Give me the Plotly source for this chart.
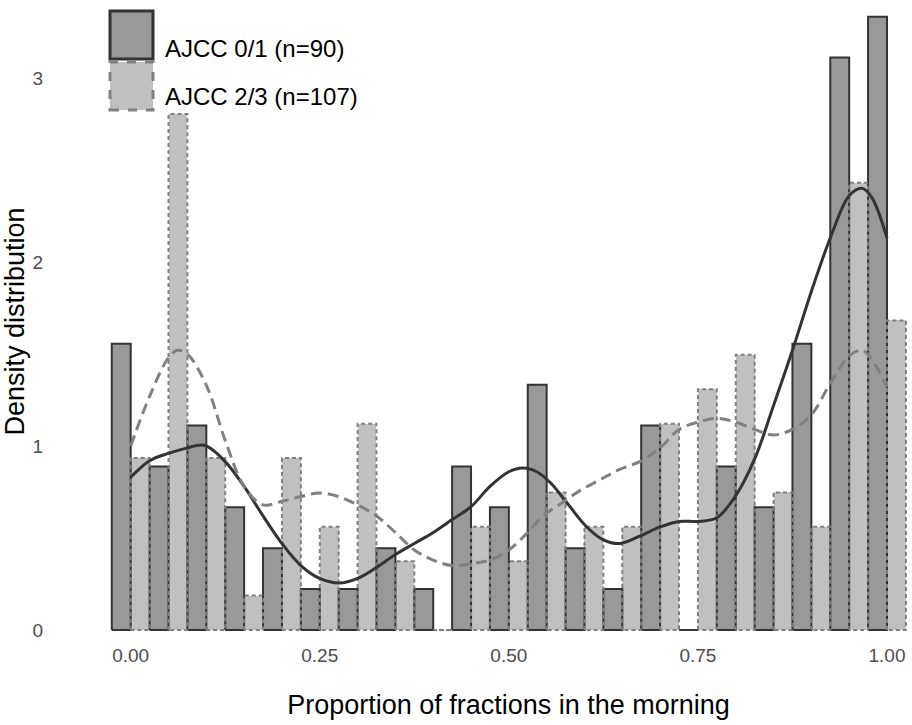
import plotly.graph_objects as go

# ---------------- data ----------------
bin_centers = [0.00, 0.05, 0.10, 0.15, 0.20, 0.25, 0.30, 0.35, 0.40, 0.45, 0.50,
               0.55, 0.60, 0.65, 0.70, 0.75, 0.80, 0.85, 0.90, 0.95, 1.00]
bin_width = 0.05
counts_01 = [7, 4, 5, 3, 2, 1, 1, 2, 1, 4, 3, 6, 2, 1, 5, 0, 4, 3, 7, 14, 15]
counts_23 = [5, 15, 5, 1, 5, 3, 6, 2, 0, 3, 2, 4, 3, 3, 6, 7, 8, 4, 3, 13, 9]
n_01 = 90
n_23 = 107
label_01 = "AJCC 0/1 (n=90)"
label_23 = "AJCC 2/3 (n=107)"

dens_x_01 = [0.000, 0.025, 0.05, 0.075, 0.092, 0.1, 0.125, 0.15, 0.175, 0.2, 0.225, 0.25,
             0.276, 0.3, 0.325, 0.35, 0.375, 0.4, 0.425, 0.45, 0.475, 0.5, 0.519, 0.537,
             0.555, 0.577, 0.603, 0.625, 0.647, 0.673, 0.7, 0.725, 0.75, 0.775, 0.8, 0.825,
             0.85, 0.875, 0.9, 0.925, 0.95, 0.967, 0.98, 1.0]
dens_y_01 = [0.83, 0.92, 0.96, 0.99, 1.005, 1.00, 0.915, 0.78, 0.62, 0.47, 0.35, 0.28,
             0.255, 0.28, 0.34, 0.41, 0.47, 0.53, 0.60, 0.67, 0.78, 0.86, 0.88, 0.86,
             0.80, 0.69, 0.56, 0.49, 0.47, 0.51, 0.56, 0.59, 0.59, 0.61, 0.73, 0.93,
             1.22, 1.52, 1.84, 2.13, 2.36, 2.40, 2.35, 2.13]
dens_x_23 = [0.0, 0.025, 0.05, 0.062, 0.075, 0.1, 0.125, 0.15, 0.175, 0.2, 0.225, 0.25,
             0.275, 0.3, 0.325, 0.35, 0.375, 0.4, 0.425, 0.45, 0.475, 0.5, 0.525, 0.545,
             0.57, 0.595, 0.62, 0.645, 0.673, 0.7, 0.725, 0.75, 0.775, 0.8, 0.825, 0.85,
             0.875, 0.9, 0.925, 0.95, 0.967, 0.98, 1.0]
dens_y_23 = [1.00, 1.27, 1.48, 1.52, 1.50, 1.33, 1.03, 0.78, 0.68, 0.70, 0.725, 0.745,
             0.725, 0.68, 0.62, 0.53, 0.435, 0.38, 0.35, 0.36, 0.38, 0.435, 0.53, 0.62,
             0.69, 0.76, 0.815, 0.87, 0.915, 0.99, 1.09, 1.13, 1.15, 1.13, 1.09, 1.06,
             1.09, 1.17, 1.34, 1.49, 1.52, 1.47, 1.32]

x_ticks = [0, 0.25, 0.5, 0.75, 1.0]
x_ticklabels = ["0.00", "0.25", "0.50", "0.75", "1.00"]
y_ticks = [0, 1, 2, 3]

# ---------------- style ----------------
FONT = "Liberation Sans, Arial, sans-serif"
DARK_FILL = "#999999"
DARK_LINE = "#333333"
LIGHT_FILL = "#c0c0c0"
LIGHT_LINE = "#808080"

W, H = 912, 725
ML, MR, MT, MB = 108, 3, 4, 86
PW, PH = W - ML - MR, H - MT - MB

dens_01 = [c / (n_01 * bin_width) for c in counts_01]
dens_23 = [c / (n_23 * bin_width) for c in counts_23]
half = bin_width / 2
x_01 = [c - half / 2 for c in bin_centers]
x_23 = [c + half / 2 for c in bin_centers]


def outline(xs, hs, w):
    px, py = [], []
    for x, h in zip(xs, hs):
        x0, x1 = x - w / 2, x + w / 2
        px += [x0, x0, x1, x1, x0, None]
        py += [0, h, h, 0, 0, None]
    return px, py


fig = go.Figure()
fig.add_trace(go.Bar(x=x_01, y=dens_01, width=half, name=label_01,
                     marker=dict(color=DARK_FILL, line=dict(width=0)), showlegend=False))
fig.add_trace(go.Bar(x=x_23, y=dens_23, width=half, name=label_23,
                     marker=dict(color=LIGHT_FILL, line=dict(width=0)), showlegend=False))
ox, oy = outline(x_01, dens_01, half)
fig.add_trace(go.Scatter(x=ox, y=oy, mode="lines", line=dict(color=DARK_LINE, width=2),
                         hoverinfo="skip", showlegend=False))
ox, oy = outline(x_23, dens_23, half)
fig.add_trace(go.Scatter(x=ox, y=oy, mode="lines",
                         line=dict(color=LIGHT_LINE, width=2, dash="4px,3px"),
                         hoverinfo="skip", showlegend=False))
fig.add_trace(go.Scatter(x=dens_x_01, y=dens_y_01, mode="lines",
                         line=dict(color=DARK_LINE, width=3, shape="spline", smoothing=1.0),
                         showlegend=False))
fig.add_trace(go.Scatter(x=dens_x_23, y=dens_y_23, mode="lines",
                         line=dict(color=LIGHT_LINE, width=3, dash="11px,6px",
                                   shape="spline", smoothing=1.0),
                         showlegend=False))

# pixel -> paper helpers for the legend
def pxx(p):
    return (p - ML) / PW


def pxy(p):
    return (H - MB - p) / PH


shapes = [
    dict(type="rect", xref="paper", yref="paper", x0=pxx(110), x1=pxx(153), y0=pxy(59), y1=pxy(11),
         fillcolor=DARK_FILL, line=dict(color=DARK_LINE, width=3), layer="above"),
    dict(type="rect", xref="paper", yref="paper", x0=pxx(110), x1=pxx(153), y0=pxy(110), y1=pxy(62),
         fillcolor=LIGHT_FILL, line=dict(color=LIGHT_LINE, width=3, dash="dash"), layer="above"),
]
annotations = [
    dict(xref="paper", yref="paper", x=pxx(163), y=pxy(48), text=label_01, showarrow=False,
         xanchor="left", yanchor="middle", font=dict(family=FONT, size=24, color="black")),
    dict(xref="paper", yref="paper", x=pxx(163), y=pxy(97), text=label_23, showarrow=False,
         xanchor="left", yanchor="middle", font=dict(family=FONT, size=24, color="black")),
]

fig.update_layout(
    width=W, height=H,
    margin=dict(l=ML, r=MR, t=MT, b=MB, autoexpand=False),
    plot_bgcolor="white", paper_bgcolor="white",
    barmode="overlay", bargap=0,
    font=dict(family=FONT),
    shapes=shapes, annotations=annotations,
    xaxis=dict(range=[-0.030, 1.0291], tickvals=x_ticks, ticktext=x_ticklabels,
               showgrid=False, zeroline=False, showline=False, ticks="",
               tickfont=dict(family=FONT, size=19, color="#4d4d4d"), ticklabelstandoff=3,
               title=dict(text="Proportion of fractions in the morning",
                          font=dict(family=FONT, size=27, color="black"), standoff=30)),
    yaxis=dict(range=[-0.0489, 3.402], tickvals=y_ticks,
               showgrid=False, zeroline=False, showline=False, ticks="",
               tickfont=dict(family=FONT, size=19, color="#4d4d4d"), ticklabelstandoff=64,
               title=dict(text="Density distribution",
                          font=dict(family=FONT, size=27, color="black"), standoff=14)),
)

fig.write_html("out.html")
